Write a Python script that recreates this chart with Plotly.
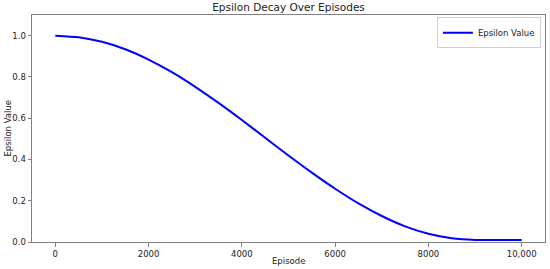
import plotly.graph_objects as go

# Epsilon values every 500 episodes
episodes = [0, 500, 1000, 1500, 2000, 2500, 3000, 3500, 4000, 4500, 5000,
            5500, 6000, 6500, 7000, 7500, 8000, 8500, 9000, 9500, 10000]
epsilon = [1.000, 0.992, 0.970, 0.934, 0.884, 0.823, 0.752, 0.674, 0.591, 0.505, 0.419,
           0.336, 0.258, 0.187, 0.126, 0.076, 0.040, 0.018, 0.010, 0.010, 0.010]

x_ticks = [0, 2000, 4000, 6000, 8000, 10000]
x_tick_labels = ["0", "2000", "4000", "6000", "8000", "10,000"]
y_ticks = [0.0, 0.2, 0.4, 0.6, 0.8, 1.0]
y_tick_labels = ["0.0", "0.2", "0.4", "0.6", "0.8", "1.0"]

fig = go.Figure()
fig.add_trace(go.Scatter(
    x=episodes, y=epsilon, mode="lines", name="Epsilon Value",
    line=dict(color="#0000ff", width=2, shape="spline", smoothing=0.6),
))

axis_style = dict(
    showline=True, linecolor="#808080", linewidth=1, mirror=True,
    showgrid=False, zeroline=False, automargin=False,
    ticks="outside", ticklen=3.5, tickcolor="#808080", tickwidth=1,
    tickfont=dict(size=8.5, color="#222222"),
)

fig.update_layout(
    width=550, height=269,
    margin=dict(l=32, r=5, t=15, b=27),
    paper_bgcolor="white", plot_bgcolor="white",
    font=dict(family="DejaVu Sans", color="#222222"),
    title=dict(text="Epsilon Decay Over Episodes", x=0.5, xref="paper",
               y=0.972, yanchor="middle", font=dict(size=10.5)),
    xaxis=dict(range=[-500, 10500], tickvals=x_ticks, ticktext=x_tick_labels, **axis_style),
    yaxis=dict(range=[0, 1.1], tickvals=y_ticks, ticktext=y_tick_labels, **axis_style),
    showlegend=True,
    legend=dict(x=0.992, y=0.99, xanchor="right", yanchor="top",
                bgcolor="rgba(255,255,255,0.8)", bordercolor="#d0d0d0", borderwidth=1,
                font=dict(size=8.5), itemwidth=30),
    annotations=[
        dict(text="Episode", xref="paper", yref="paper", x=0.5, y=0, yshift=-19,
             xanchor="center", yanchor="middle", showarrow=False, font=dict(size=8.5)),
        dict(text="Epsilon Value", xref="paper", yref="paper", x=0, xshift=-25, y=0.5,
             textangle=-90, xanchor="center", yanchor="middle", showarrow=False,
             font=dict(size=8.5)),
    ],
)

# drop the default page margin so the figure sits at the window's corner
fig.write_html("out.html", config={"displayModeBar": False},
               post_script="document.body.style.margin='0';")
